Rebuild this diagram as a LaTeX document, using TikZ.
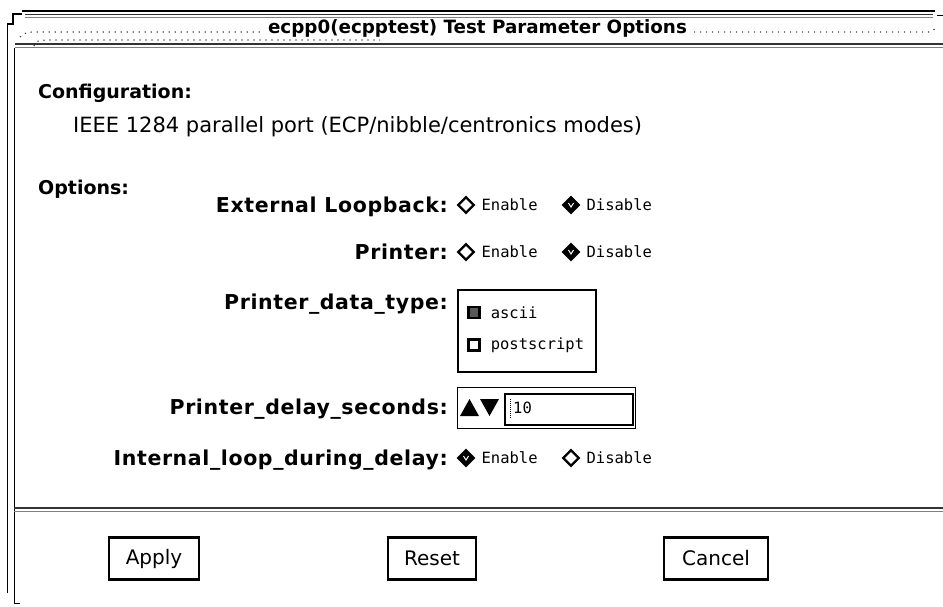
\documentclass[tikz,border=0pt]{standalone}
\usepackage{fontspec}
\setmainfont{DejaVu Sans}
\newfontfamily\lblfont{DejaVu Sans}[LetterSpace=3]
\newfontfamily\optfont{DejaVu Sans Mono}
\usetikzlibrary{positioning,shapes.geometric}

\begin{document}
\begin{tikzpicture}[
		x=1pt, y=-1pt,
		lbl/.style={anchor=base east, inner sep=0pt, font=\lblfont\fontsize{20.5}{24}\selectfont\bfseries},
		head/.style={anchor=base west, inner sep=0pt, font=\fontsize{19}{22}\selectfont\bfseries},
		radio/.style={diamond, draw, line width=2.4pt, fill=white, inner sep=0pt, minimum size=16.5pt},
		radioon/.style={radio, fill=black,
			path picture={\draw[white, line width=1pt] ([shift={(-2.5pt,2pt)}]path picture bounding box.center) -- ([shift={(0pt,-2pt)}]path picture bounding box.center) -- ([shift={(2.5pt,2pt)}]path picture bounding box.center);}},
		opt/.style={anchor=west, inner sep=0pt, font=\optfont\fontsize{15.5}{18}\selectfont},
		check/.style={draw, line width=2.2pt, inner sep=0pt, minimum size=11pt},
		button/.style={draw, line width=2.4pt, minimum height=42pt, font=\fontsize{20}{24}\selectfont},
		frameline/.style={gray!40!black, line width=1.3pt},
		lightline/.style={gray, line width=0.9pt},
		dots/.style={gray!50!black, line width=1.2pt, dash pattern=on 1.2pt off 4.8pt},
	]
		\useasboundingbox (0,0) rectangle (943,606);
		
		% window frame
		\draw[line width=2.5pt] (22,11) -- (935,11);
		\draw[frameline] (25,14.5) -- (933,14.5);
		\draw[lightline] (25,17) -- (933,17);
		\draw[line width=1pt] (937,15) -- (943,15);
		\draw[line width=1.2pt] (22,14) -- (13,14) -- (13,24) -- (7.5,24) -- (7.5,593);
		\draw[line width=1pt] (14,48) -- (14,603) -- (20,603);
		\draw[dots] (20,37) .. controls (26,32) .. (40,32) -- (262,32);
		\draw[dots] (34,46) .. controls (36,41) .. (46,40) -- (380,40);
		\draw[dots] (694,32) -- (925,32) .. controls (931,32) .. (937,27);
		\draw[frameline] (15,44) -- (943,44);
		\draw[lightline] (15,47) -- (943,47);
		\node (title) [anchor=base, inner sep=0pt, font=\fontsize{18.3}{20}\selectfont\bfseries] at (477.5,33) {ecpp0(ecpptest) Test Parameter Options};
		
		% configuration
		\node (config) [head] at (38,98) {Configuration:};
		\node (port) [anchor=base west, inner sep=0pt, font=\fontsize{21}{24}\selectfont] at (73,132) {IEEE 1284 parallel port (ECP/nibble/centronics modes)};
		\node (options) [head] at (38,194) {Options:};
		
		% external loopback
		\node (extlbl) [lbl] at (448,212) {External Loopback:};
		\node (exton) [radio] at (466,205) {};
		\node (extontxt) [opt, right=6pt of exton] {Enable};
		\node (extoff) [radioon] at (571,205) {};
		\node (extofftxt) [opt, right=6pt of extoff] {Disable};
		
		% printer
		\node (prnlbl) [lbl] at (448,259) {Printer:};
		\node (prnon) [radio] at (466,252) {};
		\node (prnontxt) [opt, right=6pt of prnon] {Enable};
		\node (prnoff) [radioon] at (571,252) {};
		\node (prnofftxt) [opt, right=6pt of prnoff] {Disable};
		
		% data type
		\node (typelbl) [lbl] at (448,309) {Printer\_data\_type:};
		\node (typebox) [draw, line width=2.4pt, minimum width=138pt, minimum height=82pt, anchor=north west] at (457,289) {};
		\node (asciibox) [check, fill=black!65] at (474,312.5) {};
		\node (asciitxt) [opt, right=10pt of asciibox] {ascii};
		\node (psbox) [check] at (474,345) {};
		\node (pstxt) [opt, right=10pt of psbox] {postscript};
		
		% delay
		\node (delaylbl) [lbl] at (448,414) {Printer\_delay\_seconds:};
		\node (delaybox) [draw, line width=1pt, minimum width=178pt, minimum height=41pt, anchor=north west] at (457,387) {};
		\fill (460,416) -- (479,416) -- (469.5,399) -- cycle;
		\fill (480,399) -- (499,399) -- (489.5,416) -- cycle;
		\node (delayfield) [draw, line width=2.4pt, minimum width=128pt, minimum height=31pt, anchor=north west] at (503.5,392.5) {};
		\node (delayval) [opt] at (513,408) {10};
		\draw[line width=0.8pt, dash pattern=on 0.8pt off 1.2pt] (510,399) -- (510,418);
		
		% internal loop
		\node (intlbl) [lbl] at (448,465) {Internal\_loop\_during\_delay:};
		\node (inton) [radioon] at (466,458) {};
		\node (intontxt) [opt, right=6pt of inton] {Enable};
		\node (intoff) [radio] at (571,458) {};
		\node (intofftxt) [opt, right=6pt of intoff] {Disable};
		
		% buttons
		\draw[frameline, line width=1.6pt] (14,508) -- (943,508);
		\draw[lightline] (14,511.5) -- (943,511.5);
		\node (apply) [button, minimum width=90pt] at (154,558.5) {Apply};
		\node (reset) [button, minimum width=88pt] at (432,558.5) {Reset};
		\node (cancel) [button, minimum width=104pt] at (716,558.5) {Cancel};
\end{tikzpicture}
\end{document}
